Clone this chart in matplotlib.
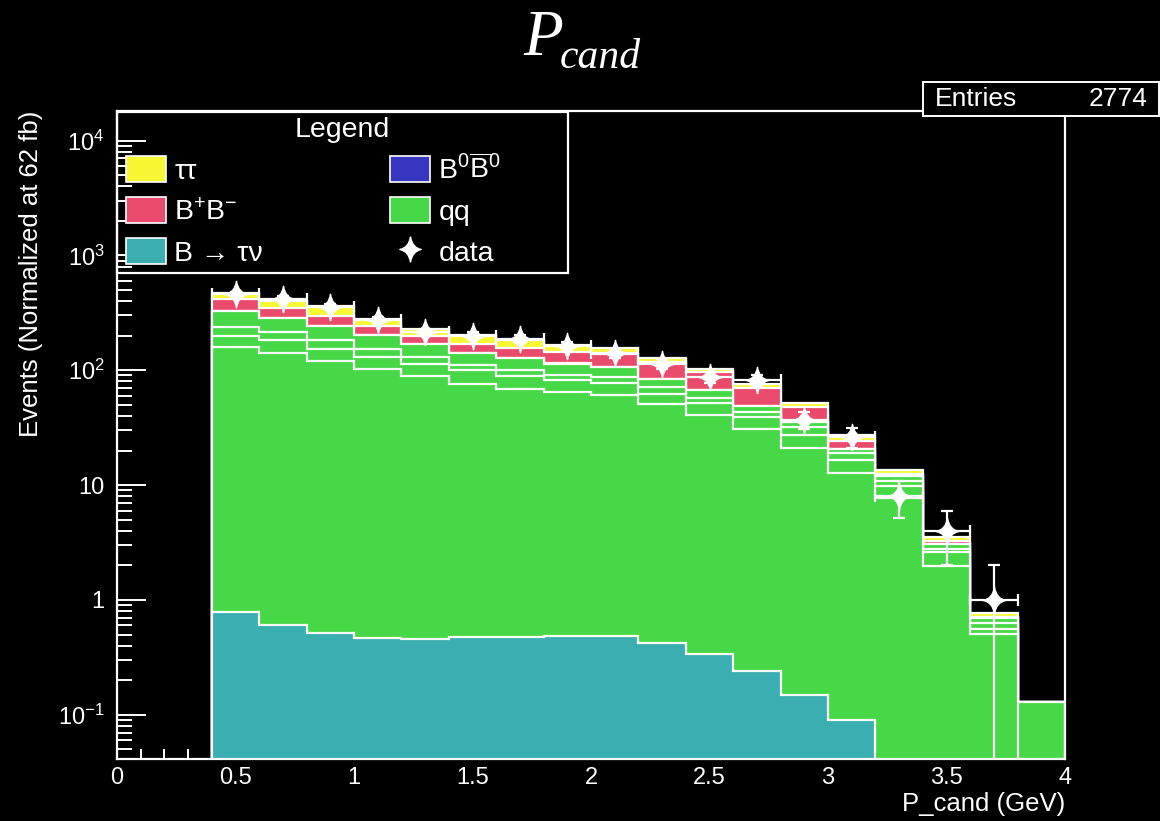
import numpy as np
import matplotlib
matplotlib.use("Agg")
import matplotlib.pyplot as plt
from matplotlib.patches import Patch, Rectangle
from matplotlib.lines import Line2D
from matplotlib.path import Path
from matplotlib.ticker import FixedLocator, LogLocator, MultipleLocator, NullFormatter, FuncFormatter

plt.rcParams['font.family'] = ['Liberation Sans', 'DejaVu Sans']
plt.rcParams['mathtext.fontset'] = 'custom'
plt.rcParams['mathtext.rm'] = 'Liberation Sans'
plt.rcParams['mathtext.it'] = 'Liberation Sans:italic'
plt.rcParams['mathtext.bf'] = 'Liberation Sans:bold'

# binning of P_cand (GeV)
bin_edges = [0.4, 0.6, 0.8, 1.0, 1.2, 1.4, 1.6, 1.8, 2.0, 2.2, 2.4,
             2.6, 2.8, 3.0, 3.2, 3.4, 3.6, 3.8, 4.0]

# stacked MC components, bottom to top
b_taunu = [0.78, 0.61, 0.52, 0.47, 0.46, 0.48, 0.48, 0.49, 0.49, 0.42, 0.34, 0.24, 0.15, 0.09, 0, 0, 0, 0]
qq_1 = [159.9, 141.1, 119.2, 102.3, 89.4, 75.7, 68.4, 63.9, 59.8, 50.9, 40.1, 30.7, 20.9, 12.7, 7.77, 1.98, 0.51, 0]
qq_2 = [39.6, 40.7, 33.8, 28.0, 24.5, 25.2, 21.0, 17.4, 17.4, 11.4, 11.7, 8.5, 6.0, 3.9, 2.03, 0.63, 0.05, 0.128]
qq_3 = [39.6, 31.6, 31.4, 22.7, 16.4, 10.7, 11.5, 10.0, 9.9, 9.0, 4.7, 4.1, 5.1, 2.2, 1.0, 0.19, 0.07, 0]
qq_4 = [90.4, 71.6, 59.8, 50.8, 39.9, 27.8, 26.8, 22.6, 19.5, 12.5, 10.2, 5.1, 3.1, 1.8, 1.2, 0.25, 0.06, 0]
b0_b0bar = [0.4, 0.3, 0.3, 0.2, 0.2, 0.2, 0.2, 0.2, 0.2, 0.2, 0.15, 0.1, 0.05, 0.02, 0.01, 0, 0, 0]
bp_bm = [89.6, 61.8, 50.3, 40.4, 29.6, 28.4, 27.1, 31.0, 31.8, 34.1, 29.1, 21.7, 12.8, 3.3, 0.6, 0.21, 0.02, 0]
tau_tau = [54.1, 56.5, 65.3, 35.2, 30.3, 36.0, 27.1, 21.8, 17.7, 9.9, 6.7, 4.8, 4.0, 3.1, 0.9, 0.30, 0.06, 0]

# data counts per bin
data_counts = [460, 419, 358, 273, 214, 200, 187, 164, 140, 114, 87, 82, 37, 26, 8, 4, 1, 0]
n_entries = 2774

c_teal = '#3aaeb0'
c_green = '#47d847'
c_blue = '#3636c0'
c_red = '#ea4a6c'
c_yellow = '#f7f733'

edges = np.array(bin_edges)
layers = [(b_taunu, c_teal), (qq_1, c_green), (qq_2, c_green), (qq_3, c_green),
          (qq_4, c_green), (b0_b0bar, c_blue), (bp_bm, c_red), (tau_tau, c_yellow)]
cum = np.cumsum([np.array(v, dtype=float) for v, _ in layers], axis=0)
floor = 1e-3

# four pointed "sparkle" marker with concave sides
k = 0.14
star = Path([(0, 1), (k, k), (0.85, 0), (k, -k), (0, -1), (-k, -k), (-0.85, 0), (-k, k), (0, 1), (0, 1)],
            [Path.MOVETO, Path.CURVE3, Path.CURVE3, Path.CURVE3, Path.CURVE3,
             Path.CURVE3, Path.CURVE3, Path.CURVE3, Path.CURVE3, Path.CLOSEPOLY])

fig = plt.figure(figsize=(11.6, 8.21), dpi=100, facecolor='black')
ax = fig.add_axes([0.1009, 0.0755, 0.8172, 0.7897], facecolor='black')
ax.set_yscale('log')

# draw from the top of the stack downwards, like THStack
for i in reversed(range(len(layers))):
    ax.stairs(np.maximum(cum[i], floor), edges, baseline=floor, fill=True,
              facecolor=layers[i][1], edgecolor='white', linewidth=1.6)

# data points
data = np.array(data_counts, dtype=float)
centers = (edges[:-1] + edges[1:]) / 2
half_w = np.diff(edges) / 2
m = data > 0
ax.errorbar(centers[m], data[m], xerr=half_w[m], yerr=np.sqrt(data[m]), fmt='none',
            ecolor='white', elinewidth=1.6, capsize=4, capthick=1.6, zorder=5)
ax.plot(centers[m], data[m], ls='none', marker=star, ms=19, color='white', zorder=6)

ax.set_xlim(0, 4)
ax.set_ylim(0.0412, 18200)
ax.set_axisbelow(True)

ax.xaxis.set_major_locator(MultipleLocator(0.5))
ax.xaxis.set_minor_locator(MultipleLocator(0.1))
ax.xaxis.set_major_formatter(FuncFormatter(lambda v, p: f'{v:g}'))
ax.yaxis.set_major_locator(FixedLocator([0.1, 1, 10, 100, 1000, 10000]))
ax.yaxis.set_minor_locator(LogLocator(base=10, subs=np.arange(2, 10) * 1.0, numticks=20))
ax.yaxis.set_minor_formatter(NullFormatter())
ax.set_yticklabels([r'$\mathregular{10^{-1}}$', '1', '10', r'$\mathregular{10^{2}}$',
                    r'$\mathregular{10^{3}}$', r'$\mathregular{10^{4}}$'])

ax.tick_params(which='both', direction='in', colors='white', width=1.4,
               top=False, right=False, labelsize=17)
ax.tick_params(axis='x', which='major', length=14, pad=6)
ax.tick_params(axis='x', which='minor', length=7)
ax.tick_params(axis='y', which='major', length=21, pad=9)
ax.tick_params(axis='y', which='minor', length=11)
for s in ax.spines.values():
    s.set_color('white')
    s.set_linewidth(1.6)

ax.set_xlabel('P_cand (GeV)', loc='right', color='white', fontsize=18.5)
ax.xaxis.set_label_coords(1.0, -0.051)
ax.set_ylabel('Events (Normalized at 62 fb)', loc='top', color='white', fontsize=18.5)
ax.yaxis.set_label_coords(-0.078, 1.0)

# legend
handles = [
    Patch(facecolor=c_yellow, edgecolor='white', lw=1.2, label=r'ττ'),
    Patch(facecolor=c_red, edgecolor='white', lw=1.2, label=r'$\mathregular{B^{+}B^{-}}$'),
    Patch(facecolor=c_teal, edgecolor='white', lw=1.2, label='B → τν'),
    Patch(facecolor=c_blue, edgecolor='white', lw=1.2, label=r'$\mathregular{B^{0}\overline{B}^{0}}$'),
    Patch(facecolor=c_green, edgecolor='white', lw=1.2, label='qq'),
    Line2D([], [], ls='none', marker=star, ms=18, color='white', label='data'),
]
leg = fig.legend(handles=handles, ncol=2, loc='upper left',
                 bbox_to_anchor=(126 / 1160, 1 - 155 / 821), frameon=False,
                 borderpad=0, borderaxespad=0, fontsize=20.5, handlelength=1.4,
                 handleheight=1.04, handletextpad=0.3, labelspacing=0.42, columnspacing=4.45)
for t in leg.get_texts():
    t.set_color('white')
fig.add_artist(Rectangle((117 / 1160, 1 - 272.7 / 821), 451 / 1160, 161 / 821,
                         transform=fig.transFigure, fill=False, edgecolor='white', lw=1.6))
fig.text(342.5 / 1160, 1 - 130 / 821, 'Legend', color='white', fontsize=20.5,
         ha='center', va='center')

# stats box
fig.add_artist(Rectangle((923 / 1160, 1 - 116 / 821), 236 / 1160, 34 / 821,
                         transform=fig.transFigure, facecolor='black', edgecolor='white', lw=1.4))
fig.text(935 / 1160, 1 - 99 / 821, 'Entries', color='white', fontsize=19, ha='left', va='center')
fig.text(1148 / 1160, 1 - 99 / 821, f'{n_entries}', color='white', fontsize=19, ha='right', va='center')

# title
fig.text(523 / 1160, 1 - 55 / 821, 'P', family='Liberation Serif', style='italic',
         fontsize=47, color='white', ha='left', va='baseline')
fig.text(560 / 1160, 1 - 68 / 821, 'cand', family='Liberation Serif', style='italic',
         fontsize=30, color='white', ha='left', va='baseline')

fig.savefig('out.png', dpi=100, facecolor='black')
